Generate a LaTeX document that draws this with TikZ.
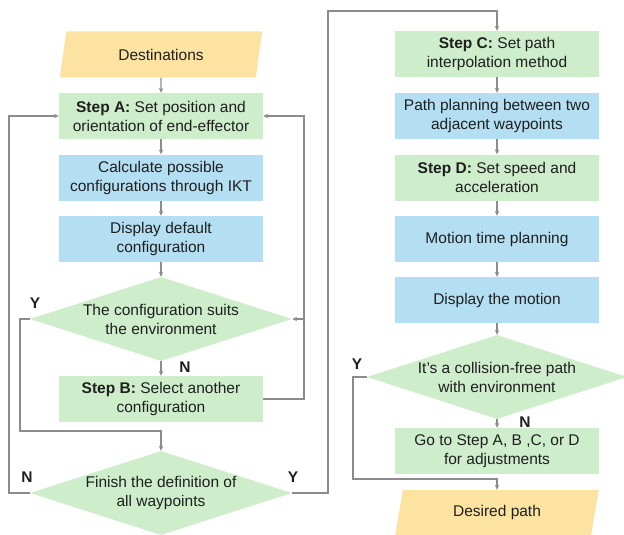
\documentclass[tikz,border=0pt]{standalone}
\usepackage{fontspec}
\setmainfont{Liberation Sans}
\usetikzlibrary{shapes.geometric,arrows.meta}
\definecolor{cgreen}{HTML}{CDEDCB}
\definecolor{cblue}{HTML}{B4DEF2}
\definecolor{cyellow}{HTML}{FCE3A1}
\definecolor{cline}{HTML}{8C8C8C}
\tikzset{
  base/.style={font=\fontsize{15.5}{19}\selectfont, align=center, inner sep=0pt, text=black!88},
  gbox/.style={base, rectangle, fill=cgreen, minimum width=204pt, minimum height=46pt},
  bbox/.style={base, rectangle, fill=cblue, minimum width=204pt, minimum height=46pt},
  iobox/.style={base, trapezium, trapezium left angle=76, trapezium right angle=104, trapezium stretches=true, fill=cyellow, minimum width=204pt, minimum height=46pt},
  dia/.style={diamond, fill=cgreen, inner sep=0pt, minimum width=262pt, minimum height=84pt},
  dtext/.style={base},
  conn/.style={draw=cline, line width=1.4pt, -{Stealth[length=5pt,width=4.5pt]}},
  yn/.style={font=\fontsize{15.5}{17}\selectfont\bfseries, text=black!88}
}
\begin{document}
\begin{tikzpicture}[x=1pt,y=-1pt]
\useasboundingbox (0,0) rectangle (624,535);
% left column
\node[iobox] (dest) at (161,54.5) {Destinations};
\node[gbox] (stepA) at (161,116) {\textbf{Step A:} Set position and\\orientation of end-effector};
\node[bbox] (calc) at (161,177.5) {Calculate possible\\configurations through IKT};
\node[bbox] (disp) at (161,239) {Display default\\configuration};
\node[dia, label={[dtext]center:The configuration suits\\the environment}] (d1) at (161,319) {};
\node[gbox] (stepB) at (161,399) {\textbf{Step B:} Select another\\configuration};
\node[dia, label={[dtext]center:Finish the definition of\\all waypoints}] (d2) at (161,493) {};
% right column
\node[gbox] (stepC) at (497,54) {\textbf{Step C:} Set path\\interpolation method};
\node[bbox] (pathp) at (497,116) {Path planning between two\\adjacent waypoints};
\node[gbox] (stepD) at (497,177.5) {\textbf{Step D:} Set speed and\\acceleration};
\node[bbox] (motion) at (497,239) {Motion time planning};
\node[bbox] (dispm) at (497,300) {Display the motion};
\node[dia, minimum width=260pt, label={[dtext]center:It’s a collision-free path\\with environment}] (d3) at (497,377) {};
\node[gbox] (goto) at (497,451) {Go to Step A, B ,C, or D\\for adjustments};
\node[iobox, minimum height=45pt] (desired) at (497,512.5) {Desired path};
% coordinates
\coordinate (rx) at (304,319);
\coordinate (lx) at (9,493);
\coordinate (tx) at (328,11);
\coordinate (y1) at (20,431);
\coordinate (y3) at (353,479);
% straight arrows
\draw[conn] (dest) -- (stepA);
\draw[conn] (stepA) -- (calc);
\draw[conn] (calc) -- (disp);
\draw[conn] (disp) -- (d1.north);
\draw[conn] (d1.south) -- (stepB);
\draw[conn] (stepC) -- (pathp);
\draw[conn] (pathp) -- (stepD);
\draw[conn] (stepD) -- (motion);
\draw[conn] (motion) -- (dispm);
\draw[conn] (dispm) -- (d3.north);
\draw[conn] (d3.south) -- (goto);
% loops
\draw[conn] (stepB.east) -| (rx) |- (stepA.east);
\draw[conn] (rx) -- (d1.east);
\draw[conn] (d1.west) -| (y1) -| (d2.north);
\draw[conn] (d2.west) -| (lx) |- (stepA.west);
\draw[conn] (d2.east) -| (tx) -| (stepC.north);
\draw[conn] (d3.west) -| (y3) -| (desired.north);
% labels
\node[yn] (l1) at (35,303) {Y};
\node[yn] (l2) at (185,367) {N};
\node[yn] (l3) at (27,477) {N};
\node[yn] (l4) at (293,477) {Y};
\node[yn] (l5) at (357,364) {Y};
\node[yn] (l6) at (525,422) {N};
\end{tikzpicture}
\end{document}
